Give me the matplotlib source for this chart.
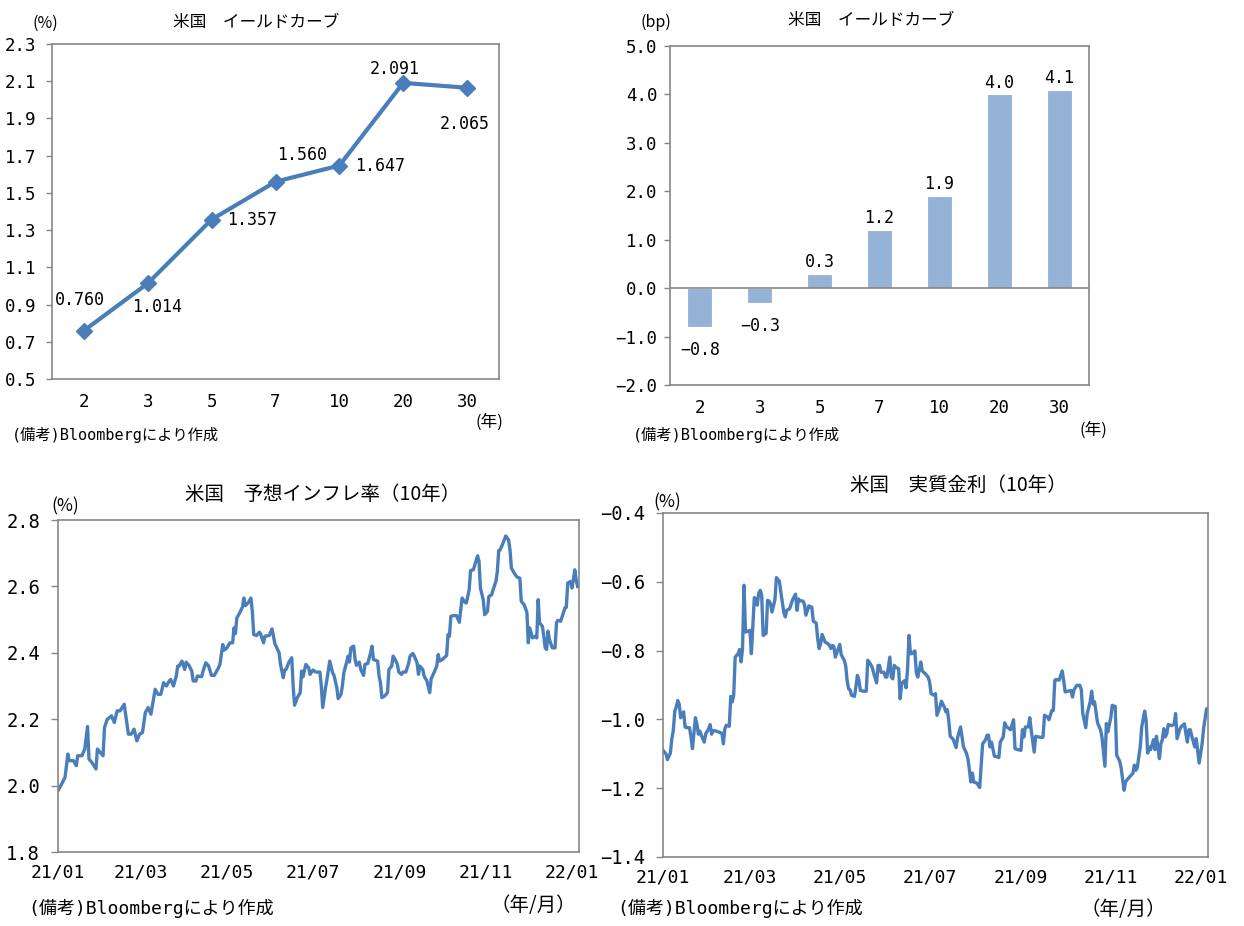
import matplotlib
matplotlib.use("Agg")
import matplotlib.pyplot as plt
import matplotlib.dates as mdates
import numpy as np
import pandas as pd

# ---------------- data ----------------
maturities = ["2", "3", "5", "7", "10", "20", "30"]
yields = [0.760, 1.014, 1.357, 1.560, 1.647, 2.091, 2.065]
changes_bp = [-0.8, -0.3, 0.3, 1.2, 1.9, 4.0, 4.1]

start_date = "2021-01-01"

bei_days = [0, 2, 5, 7, 8, 11, 13, 14, 17, 19, 21, 22, 24, 27, 28, 30, 32, 33, 35, 38,
            40, 42, 44, 47, 50, 52, 54, 56, 58, 60, 62, 64, 66, 69, 71, 73, 75, 77, 79, 80,
            82, 84, 85, 86, 88, 90, 91, 93, 95, 96, 98, 99, 102, 103, 105, 107, 109, 111, 114, 115,
            117, 118, 120, 122, 124, 125, 126, 127, 129, 131, 132, 133, 135, 137, 138, 139, 141, 143, 144, 146,
            147, 150, 152, 153, 154, 157, 158, 160, 161, 162, 164, 166, 167, 168, 170, 172, 173, 174, 176, 178,
            179, 181, 183, 185,
            186, 187, 188, 190, 191, 193, 195, 196, 198, 199, 201, 202, 203, 205, 206, 207, 208, 210, 211, 212,
            214, 215, 217, 218, 220, 222, 223, 224, 227, 228, 229, 230, 232, 234, 235, 237, 238, 240, 241, 242,
            244, 245, 247, 249, 250, 252, 253, 255, 256, 257, 259, 260, 262, 264, 265, 267, 269, 270, 271, 273,
            276, 277, 278, 279, 281, 283, 285, 286, 287, 289, 290, 292, 293, 295, 296, 298, 299, 300, 302, 303,
            305, 306, 308, 309, 311, 312, 313, 314, 316, 318, 320, 321, 322, 324, 326, 328, 329, 331, 333, 334,
            335, 337, 339, 340, 341, 342, 344, 345, 346, 347, 348, 349, 351, 353, 354, 355, 357, 359, 360, 361,
            362, 364, 365, 366, 367, 368, 369]
bei_values = [1.985, 2.0, 2.025, 2.095, 2.075, 2.075, 2.06, 2.09, 2.09, 2.11,
              2.178, 2.08, 2.07, 2.05, 2.11, 2.10, 2.09, 2.175, 2.20, 2.21,
              2.19, 2.225, 2.225, 2.245, 2.155, 2.155, 2.17, 2.135, 2.155, 2.16,
              2.22, 2.235, 2.215, 2.29, 2.275, 2.275, 2.31, 2.30, 2.315, 2.32,
              2.30, 2.33, 2.36, 2.36, 2.375, 2.35, 2.372, 2.362, 2.345, 2.315,
              2.315, 2.33, 2.328, 2.345, 2.37, 2.36, 2.332, 2.332, 2.355, 2.365,
              2.425, 2.408, 2.415, 2.43, 2.43, 2.475, 2.458, 2.505, 2.52, 2.538,
              2.565, 2.542, 2.55, 2.565, 2.525, 2.455, 2.452, 2.462, 2.455, 2.43,
              2.45, 2.452, 2.472, 2.45, 2.428, 2.40, 2.365, 2.325, 2.348, 2.35,
              2.372, 2.385, 2.30, 2.242, 2.265, 2.28, 2.345, 2.328, 2.365, 2.355,
              2.335, 2.348, 2.342, 2.342,
              2.342, 2.30, 2.235, 2.295, 2.32, 2.375, 2.34, 2.332, 2.295, 2.262,
              2.275, 2.302, 2.34, 2.372, 2.39, 2.372, 2.415, 2.42, 2.38, 2.362,
              2.372, 2.35, 2.332, 2.365, 2.368, 2.40, 2.42, 2.38, 2.375, 2.33,
              2.31, 2.265, 2.27, 2.28, 2.35, 2.36, 2.39, 2.375, 2.365, 2.342,
              2.335, 2.342, 2.342, 2.368, 2.39, 2.398, 2.39, 2.37, 2.335, 2.36,
              2.35, 2.33, 2.315, 2.28, 2.322, 2.34, 2.36, 2.395, 2.375, 2.38,
              2.392, 2.455, 2.45, 2.51, 2.512, 2.512, 2.492, 2.53, 2.565, 2.552,
              2.55, 2.59, 2.648, 2.65, 2.665, 2.692, 2.675, 2.595, 2.56, 2.515,
              2.525, 2.57, 2.575, 2.59, 2.615, 2.645, 2.708, 2.71, 2.73, 2.752,
              2.74, 2.71, 2.655, 2.64, 2.628, 2.625, 2.555, 2.545, 2.522, 2.43,
              2.475, 2.445, 2.45, 2.445, 2.56, 2.49, 2.48, 2.45, 2.415, 2.41,
              2.465, 2.44, 2.415, 2.415, 2.49, 2.498, 2.495, 2.522, 2.535, 2.537,
              2.61, 2.615, 2.595, 2.62, 2.65, 2.62, 2.60]

real_days = [0, 2, 3, 5, 6, 7, 8, 9, 10, 11, 12, 14, 15, 16, 18, 19, 20, 22, 23, 24,
             25, 26, 28, 29, 31, 32, 33, 34, 36, 38, 40, 41, 42, 43, 45, 46, 47, 48, 49, 51,
             52, 53, 54, 55, 56, 58, 59, 60, 62, 63, 64, 65, 66, 67, 68, 70, 71, 72, 73, 74,
             76, 77, 79, 80, 82, 83, 84, 86, 88, 90, 91, 92, 93, 95, 96, 97, 99, 100, 101, 102,
             104, 105, 106, 107, 108, 110, 112, 113, 114, 115, 116, 117, 119, 120, 121, 123, 124, 125, 126, 127,
             128, 130, 131, 132, 133, 134, 136, 138, 139, 140, 142, 143, 145, 146, 147, 148, 150, 151, 152, 154,
             155, 156, 157, 158, 160, 161, 162, 164, 165, 166, 167, 168, 169, 171, 172, 173, 175,
             176, 178, 180, 181, 182, 184, 185, 186, 188, 189, 191, 192, 193, 194, 195, 197, 198, 199, 200,
             202, 203, 204, 206, 207, 208, 209, 210, 211, 213, 215, 216, 217, 219, 220, 221, 222, 223, 225, 227,
             228, 229, 231, 232, 233, 235, 236, 238, 239, 241, 243, 244, 245, 246, 248, 249, 250, 252, 253, 255,
             257, 258, 259, 261, 262, 264, 265, 266, 267, 269, 271, 272, 273, 275, 277, 278, 279, 281, 283, 284,
             285, 287, 288, 290, 291, 292, 293, 295, 297, 298, 299, 300, 301, 302, 304, 305, 306, 307, 308, 310,
             311, 313, 314, 315, 317, 319, 320, 321, 322, 324, 325, 327, 328, 329, 330, 331, 333, 334, 335, 336,
             337, 338, 339, 340, 341, 342, 343, 345, 347, 348, 349, 351, 352, 354, 355, 356, 357, 358, 359, 361,
             362, 364, 365, 366, 367, 369, 370]
real_values = [-1.09, -1.10, -1.117, -1.098, -1.056, -1.032, -0.976, -0.964, -0.945, -0.956,
               -0.995, -0.978, -1.022, -1.024, -1.024, -1.051, -1.085, -0.995, -1.013, -1.043,
               -1.034, -1.046, -1.066, -1.042, -1.027, -1.015, -1.043, -1.032, -1.034, -1.037,
               -1.040, -1.071, -1.027, -1.017, -1.020, -0.933, -0.949, -0.930, -0.819, -0.809,
               -0.797, -0.833, -0.795, -0.610, -0.746, -0.743, -0.741, -0.809, -0.646, -0.649,
               -0.668, -0.633, -0.625, -0.639, -0.756, -0.750, -0.654, -0.656, -0.664, -0.688,
               -0.652, -0.588, -0.598, -0.630, -0.688, -0.702, -0.683, -0.678, -0.652, -0.636,
               -0.683, -0.650, -0.655, -0.656, -0.665, -0.697, -0.670, -0.673, -0.673, -0.714,
               -0.720, -0.765, -0.794, -0.780, -0.753, -0.775, -0.780, -0.785, -0.794, -0.785,
               -0.788, -0.819, -0.794, -0.782, -0.812, -0.828, -0.843, -0.886, -0.911, -0.914,
               -0.930, -0.933, -0.904, -0.872, -0.886, -0.916, -0.918, -0.918, -0.828, -0.833,
               -0.848, -0.865, -0.894, -0.843, -0.843, -0.863, -0.863, -0.877, -0.877, -0.819,
               -0.877, -0.882, -0.843, -0.848, -0.853, -0.940, -0.896, -0.887, -0.908, -0.857,
               -0.756, -0.809, -0.809, -0.801, -0.865, -0.877, -0.833,
               -0.859, -0.867, -0.877, -0.891, -0.925, -0.930, -0.925, -0.988, -0.964, -0.947,
               -0.964, -0.978, -0.972, -1.003, -1.049, -1.058, -1.070, -1.082, -1.053, -1.022,
               -1.051, -1.080, -1.098, -1.114, -1.146, -1.182, -1.156, -1.182, -1.185, -1.198,
               -1.133, -1.071, -1.059, -1.046, -1.046, -1.080, -1.066, -1.107, -1.109, -1.111,
               -1.066, -1.051, -1.010, -1.020, -1.027, -1.030, -1.001, -1.085, -1.088, -1.090,
               -1.030, -1.051, -1.022, -1.022, -0.995, -1.032, -1.095, -1.049, -1.051, -1.053,
               -1.051, -0.988, -0.993, -1.001, -0.974, -0.974, -0.886, -0.884, -0.886, -0.859,
               -0.886, -0.920, -0.918, -0.916, -0.935, -0.914, -0.901, -0.901, -0.914, -0.983,
               -1.024, -0.983, -0.949, -0.918, -0.955, -0.949, -1.010, -1.030, -1.051, -1.092,
               -1.136, -1.012, -1.036, -0.995, -0.959, -0.962, -0.962, -1.104, -1.121, -1.140,
               -1.206, -1.182, -1.176, -1.166, -1.157, -1.133, -1.148, -1.140, -1.080, -1.022,
               -0.976, -1.003, -1.098, -1.080, -1.088, -1.059, -1.088, -1.049, -1.080, -1.114,
               -1.071, -1.059, -1.027, -1.051, -1.042, -1.015, -1.018, -1.015, -0.983, -1.056,
               -1.027, -1.020, -1.013, -1.042, -1.066, -1.030, -1.030, -1.049, -1.080, -1.056,
               -1.127, -1.098, -1.071, -1.027, -0.969, -0.969]

date_ticks = ["2021-01-01", "2021-03-01", "2021-05-01", "2021-07-01",
              "2021-09-01", "2021-11-01", "2022-01-01"]
date_end = "2022-01-06"

# ---------------- style ----------------
W, H = 1244, 926
JP = ["Noto Sans CJK JP", "DejaVu Sans"]
MONO = ["DejaVu Sans Mono", "Noto Sans CJK JP"]
LINE_C = "#4A7EBB"
BAR_C = "#95B3D7"
SPINE_C = "#868686"

fig = plt.figure(figsize=(W / 100, H / 100), dpi=100)
fig.patch.set_facecolor("white")


def add_ax(l, t, r, b):
    return fig.add_axes([l / W, 1 - b / H, (r - l) / W, (b - t) / H])


def ftext(x, y, s, size, fam=JP, ha="center", va="center"):
    fig.text(x / W, 1 - y / H, s, fontsize=size, family=fam, ha=ha, va=va)


def style_axes(ax, tick_size, ylen=4, ypad=6, xpad=8):
    for sp in ax.spines.values():
        sp.set_color(SPINE_C)
        sp.set_linewidth(1.2)
    ax.tick_params(axis="y", direction="out", length=ylen, width=1, color=SPINE_C,
                   labelsize=tick_size, pad=ypad)
    ax.tick_params(axis="x", length=0, labelsize=tick_size, pad=xpad)
    for lab in ax.get_xticklabels() + ax.get_yticklabels():
        lab.set_family(MONO)


def num(v, d):
    s = f"{v:.{d}f}"
    return s.replace("-", "\u2212")


# ---------------- panel 1: yield curve ----------------
ax1 = add_ax(52, 44, 499, 379)
x1 = np.arange(len(maturities))
ax1.plot(x1, yields, color=LINE_C, lw=3.0, marker="D", ms=8, mfc=LINE_C, mec=LINE_C)
ax1.set_xlim(-0.5, len(maturities) - 0.5)
ax1.set_ylim(0.5, 2.3)
ax1.set_yticks(np.arange(0.5, 2.31, 0.2))
ax1.set_yticklabels([num(v, 1) for v in np.arange(0.5, 2.31, 0.2)])
ax1.set_xticks(x1)
ax1.set_xticklabels(maturities)
style_axes(ax1, 12.5, ylen=4, ypad=7, xpad=10)
label_offsets = [(-3, 22), (7, -17), (29, 0), (19, 19), (29, 0), (-6, 10), (-2, -26)]
for xi, yi, off in zip(x1, yields, label_offsets):
    ax1.annotate(f"{yi:.3f}", (xi, yi), xytext=off, textcoords="offset points",
                 ha="center", va="center", fontsize=12, family=MONO)

ftext(256, 22, "米国\u3000イールドカーブ", 12)
ftext(45, 23, "(%)", 11.5)
ftext(489, 422, "(年)", 12)
ftext(12, 435, "(備考)Bloombergにより作成", 11, fam=MONO, ha="left")

# ---------------- panel 2: change in bp ----------------
ax2 = add_ax(670, 46, 1089, 385)
x2 = np.arange(len(maturities))
ax2.bar(x2, changes_bp, width=0.42, color=BAR_C, edgecolor="white", linewidth=0.8, zorder=2)
ax2.axhline(0, color=SPINE_C, lw=1.2, zorder=3)
ax2.set_xlim(-0.5, len(maturities) - 0.5)
ax2.set_ylim(-2.0, 5.0)
ax2.set_yticks(np.arange(-2, 5.01, 1.0))
ax2.set_yticklabels([num(v, 1) for v in np.arange(-2, 5.01, 1.0)])
ax2.set_xticks(x2)
ax2.set_xticklabels(maturities)
style_axes(ax2, 12.5, ylen=4, ypad=5, xpad=10)
for xi, v in zip(x2, changes_bp):
    if v >= 0:
        ax2.annotate(num(v, 1), (xi, v), xytext=(0, 2), textcoords="offset points",
                     ha="center", va="bottom", fontsize=12, family=MONO, zorder=4)
    else:
        ax2.annotate(num(v, 1), (xi, v), xytext=(0, -10), textcoords="offset points",
                     ha="center", va="top", fontsize=12, family=MONO, zorder=4)

ftext(871, 21, "米国\u3000イールドカーブ", 12)
ftext(656, 22, "(bp)", 11.5)
ftext(1093, 430, "(年)", 12)
ftext(633, 435, "(備考)Bloombergにより作成", 11, fam=MONO, ha="left")

# ---------------- panels 3 & 4: time series ----------------
t0 = pd.Timestamp(start_date)
bei_dates = t0 + pd.to_timedelta(bei_days, unit="D")
real_dates = t0 + pd.to_timedelta(real_days, unit="D")
tick_dates = pd.to_datetime(date_ticks)


def time_axis(ax):
    ax.set_xlim(pd.Timestamp(start_date), pd.Timestamp(date_end))
    ax.set_xticks(tick_dates)
    ax.xaxis.set_major_formatter(mdates.DateFormatter("%y/%m"))


ax3 = add_ax(58, 520, 579, 852)
ax3.plot(bei_dates, bei_values, color=LINE_C, lw=2.4)
time_axis(ax3)
ax3.set_ylim(1.8, 2.8)
yt3 = np.arange(1.8, 2.81, 0.2)
ax3.set_yticks(yt3)
ax3.set_yticklabels([num(v, 1) for v in yt3])
style_axes(ax3, 13.5, ylen=5, ypad=8, xpad=8)
for lab in ax3.get_xticklabels():
    lab.set_fontsize(13)

ftext(323, 495, "米国\u3000予想インフレ率（10年）", 14)
ftext(65, 506, "(%)", 12.5)
ftext(533, 905, "（年/月）", 14)
ftext(28, 908, "(備考)Bloombergにより作成", 13, fam=MONO, ha="left")

ax4 = add_ax(663, 513, 1208, 857)
ax4.plot(real_dates, real_values, color=LINE_C, lw=2.4)
time_axis(ax4)
ax4.set_ylim(-1.4, -0.4)
yt4 = np.arange(-1.4, -0.39, 0.2)
ax4.set_yticks(yt4)
ax4.set_yticklabels([num(v, 1) for v in yt4])
style_axes(ax4, 13.5, ylen=5, ypad=8, xpad=8)
for lab in ax4.get_xticklabels():
    lab.set_fontsize(13)

ftext(958, 485, "米国\u3000実質金利（10年）", 14)
ftext(667, 502, "(%)", 12.5)
ftext(1123, 910, "（年/月）", 14)
ftext(617, 908, "(備考)Bloombergにより作成", 13, fam=MONO, ha="left")

fig.savefig("out.png", dpi=100, facecolor="white")
